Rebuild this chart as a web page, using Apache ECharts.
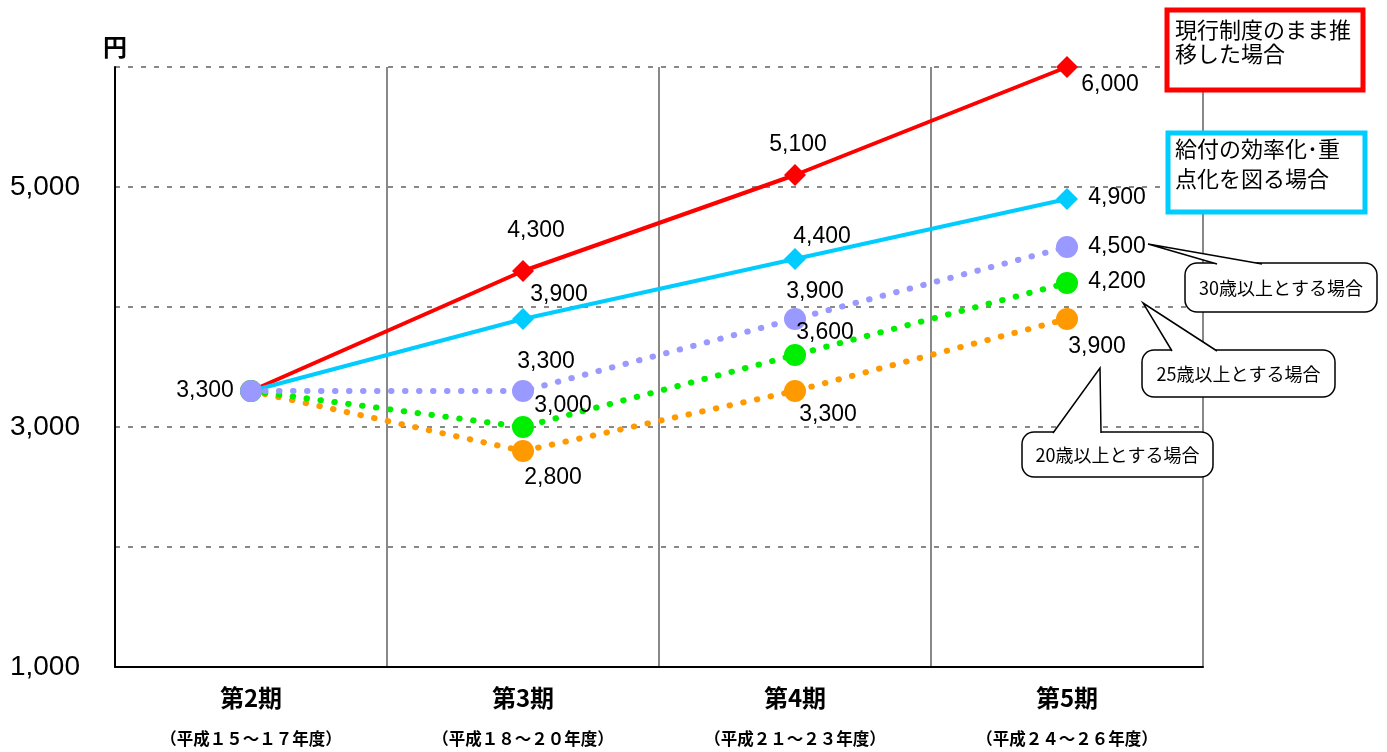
<!DOCTYPE html>
<html><head><meta charset="utf-8">
<script src="https://cdn.jsdelivr.net/npm/echarts@6/dist/echarts.min.js"></script>
<style>html,body{margin:0;padding:0;background:#fff}#c{width:1387px;height:752px}</style>
</head><body><div id="c"></div>
<script>
// ---- data ----
const categories = ['第2期', '第3期', '第4期', '第5期'];
const periodYears = ['（平成１５～１７年度）', '（平成１８～２０年度）', '（平成２１～２３年度）', '（平成２４～２６年度）'];
const currentSystem = [3300, 4300, 5100, 6000];   // 現行制度のまま推移した場合
const efficiency = [3300, 3900, 4400, 4900];      // 給付の効率化・重点化を図る場合
const age30 = [3300, 3300, 3900, 4500];           // 30歳以上とする場合
const age25 = [3300, 3000, 3600, 4200];           // 25歳以上とする場合
const age20 = [3300, 2800, 3300, 3900];           // 20歳以上とする場合
const yTickLabels = [1000, 3000, 5000];
const yUnit = '円';

// ---- label layout (pixel offsets from each point; null = no label) ----
const offRed = [null, [13, -40], [3, -30], [43, 18]];
const offCyan = [null, [36, -24], [27, -22], [50, -1]];
const offLav = [[-46, 0], [23, -29], [20, -27], [50, 0]];
const offGreen = [null, [40, -21], [30, -22], [50, -1]];
const offOrange = [null, [30, 27], [33, 24], [30, 28]];

const fmt = v => Number(v).toLocaleString('en-US');
const numFont = 'Liberation Sans, Arial, sans-serif';
const jpFont = '"Noto Sans CJK JP", sans-serif';

function buildData(values, offsets) {
  return values.map((v, i) => ({
    value: v,
    label: offsets[i] ? { show: true, position: 'inside', offset: offsets[i] } : { show: false }
  }));
}
function mkSeries(name, values, offsets, color, symbol, symbolSize, lineStyle) {
  return {
    name, type: 'line', data: buildData(values, offsets),
    symbol, symbolSize, itemStyle: { color },
    lineStyle: Object.assign({ color }, lineStyle),
    label: { color: '#000', fontFamily: numFont, fontSize: 23, formatter: p => fmt(p.value) },
    emphasis: { disabled: true }, animation: false
  };
}
const dotStyle = { width: 6, type: [0.5, 13.5], cap: 'round' };

const chart = echarts.init(document.getElementById('c'));
chart.setOption({
  backgroundColor: '#fff',
  animation: false,
  grid: { left: 115, right: 184, top: 67, bottom: 85 },
  xAxis: {
    type: 'category', data: categories, boundaryGap: true,
    axisLine: { lineStyle: { color: '#000', width: 2 } },
    axisTick: { show: false },
    splitLine: { show: true, lineStyle: { color: '#888', width: 2 } },
    axisLabel: {
      margin: 14, interval: 0,
      formatter: (v, i) => '{a|' + v + '}\n{b|' + periodYears[i] + '}',
      rich: {
        a: { fontFamily: jpFont, fontSize: 24, fontWeight: 'bold', color: '#000', lineHeight: 34 },
        b: { fontFamily: jpFont, fontSize: 16.5, fontWeight: 'bold', color: '#000', lineHeight: 48 }
      }
    }
  },
  yAxis: {
    type: 'value', min: 1000, max: 6000, interval: 1000,
    name: yUnit, nameLocation: 'end', nameGap: 8,
    nameTextStyle: { fontFamily: jpFont, fontSize: 24, fontWeight: 'bold', color: '#000', align: 'center' },
    axisLine: { show: true, lineStyle: { color: '#000', width: 2 } },
    axisTick: { show: false },
    splitLine: { show: true, lineStyle: { color: '#888', width: 2, type: [5, 8] } },
    axisLabel: {
      margin: 35, color: '#000', fontFamily: numFont, fontSize: 28,
      formatter: v => yTickLabels.includes(v) ? fmt(v) : ''
    }
  },
  series: [
    mkSeries('現行制度のまま推移した場合', currentSystem, offRed, '#FF0000', 'diamond', 22, { width: 4 }),
    mkSeries('給付の効率化・重点化を図る場合', efficiency, offCyan, '#00CCFF', 'diamond', 22, { width: 4 }),
    mkSeries('20歳以上とする場合', age20, offOrange, '#FF9900', 'circle', 22, dotStyle),
    mkSeries('25歳以上とする場合', age25, offGreen, '#00EE00', 'circle', 22, dotStyle),
    mkSeries('30歳以上とする場合', age30, offLav, '#9999FF', 'circle', 22, dotStyle)
  ]
});

// ---- annotations ----
function px(si, i, v) { return chart.convertToPixel({ seriesIndex: si }, [i, v]); }
function bubble(tip, box, b1, b2, text) {
  return [
    { type: 'rect', shape: { x: box[0], y: box[1], width: box[2], height: box[3], r: 12 },
      style: { fill: '#fff', stroke: '#000', lineWidth: 1.5 }, z: 100 },
    { type: 'polygon', shape: { points: [tip, b1, b2] }, style: { fill: '#fff', stroke: null }, z: 101 },
    { type: 'polyline', shape: { points: [b1, tip, b2] }, style: { fill: null, stroke: '#000', lineWidth: 1.5 }, z: 102 },
    { type: 'text', x: box[0] + box[2] / 2, y: box[1] + box[3] / 2 + 1,
      style: { text, fontFamily: jpFont, fontSize: 18, fill: '#000', align: 'center', verticalAlign: 'middle' }, z: 103 }
  ];
}
const p30 = px(4, 3, age30[3]);
const p25 = px(3, 3, age25[3]);
const p20 = px(2, 3, age20[3]);
const t30 = [p30[0] + 81, p30[1] - 3];
const t25 = [p25[0] + 76, p25[1] + 20];
const t20 = [p20[0] + 33, p20[1] + 49];

let g = [];
g = g.concat(bubble(t30, [1185, 263, 192, 49], [1217, 264], [1262, 264], '30歳以上とする場合'));
g = g.concat(bubble(t25, [1142, 350, 193, 47], [1172, 351], [1217, 351], '25歳以上とする場合'));
g = g.concat(bubble(t20, [1022, 432, 191, 45], [1053, 433], [1101, 433], '20歳以上とする場合'));
// legend boxes
g.push({ type: 'rect', shape: { x: 1167, y: 10, width: 196, height: 80 }, style: { fill: '#fff', stroke: '#FF0000', lineWidth: 5 }, z: 100 });
g.push({ type: 'text', x: 1175, y: 18, style: { text: '現行制度のまま推\n移した場合', fontFamily: jpFont, fontSize: 22, lineHeight: 24, fill: '#000' }, z: 101 });
g.push({ type: 'rect', shape: { x: 1168, y: 133, width: 197, height: 79 }, style: { fill: '#fff', stroke: '#00CCFF', lineWidth: 5 }, z: 100 });
g.push({ type: 'text', x: 1175, y: 134, style: { text: '給付の効率化･重\n点化を図る場合', fontFamily: jpFont, fontSize: 22, lineHeight: 30, fill: '#000' }, z: 101 });
chart.setOption({ graphic: g });
</script>
</body></html>
